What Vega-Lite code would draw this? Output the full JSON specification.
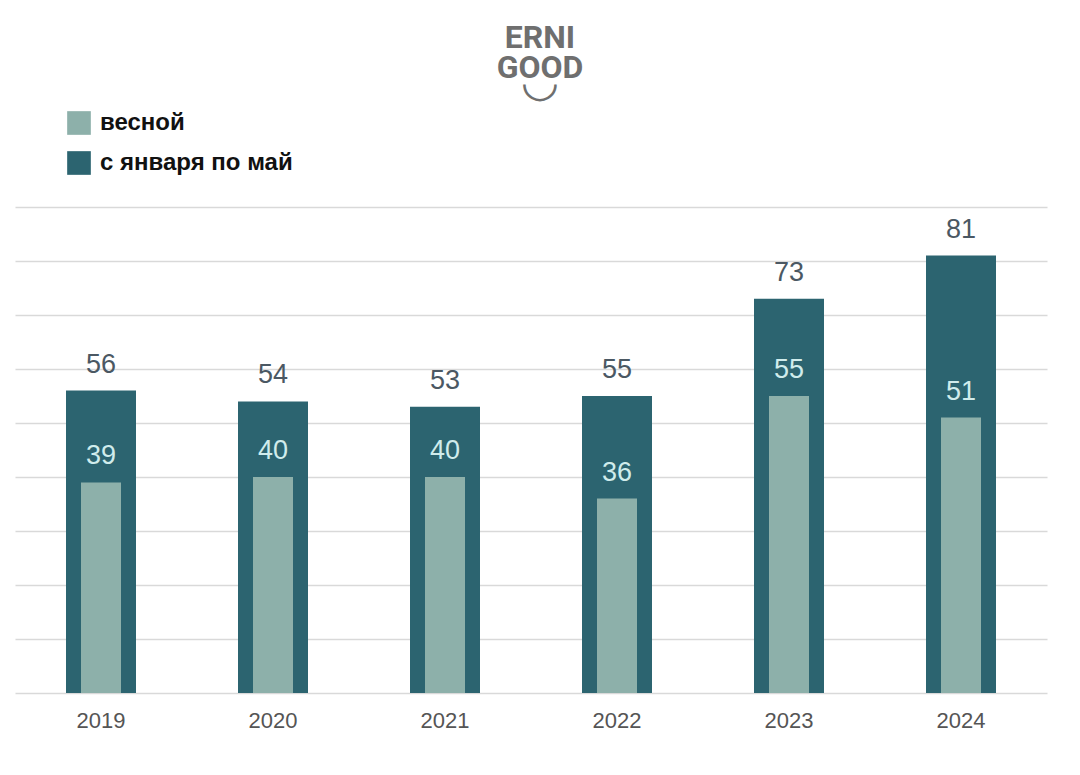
{
  "$schema": "https://vega.github.io/schema/vega-lite/v6.json",
  "width": 1032,
  "height": 486,
  "autosize": "none",
  "padding": {"left": 15, "top": 207, "right": 33, "bottom": 82},
  "background": "white",
  "title": {
    "text": ["ERNI", "GOOD"],
    "subtitle": "◡",
    "anchor": "middle",
    "frame": "group",
    "font": "Roboto",
    "fontSize": 32,
    "fontWeight": "bold",
    "lineHeight": 30,
    "color": "#6f6f6f",
    "subtitleColor": "#6f6f6f",
    "subtitleFont": "DejaVu Sans",
    "subtitleFontSize": 44,
    "subtitleFontWeight": "bold",
    "subtitlePadding": -24,
    "offset": 5,
    "dx": 9
  },
  "data": {
    "values": [
      {"year": "2019", "total": 56, "spring": 39},
      {"year": "2020", "total": 54, "spring": 40},
      {"year": "2021", "total": 53, "spring": 40},
      {"year": "2022", "total": 55, "spring": 36},
      {"year": "2023", "total": 73, "spring": 55},
      {"year": "2024", "total": 81, "spring": 51}
    ]
  },
  "config": {
    "view": {"stroke": null},
    "font": "Liberation Sans"
  },
  "encoding": {
    "x": {
      "field": "year",
      "type": "nominal",
      "title": null,
      "scale": {"paddingInner": 0, "paddingOuter": 0},
      "axis": {
        "labelAngle": 0,
        "labelFontSize": 22,
        "labelColor": "#555555",
        "labelPadding": 17,
        "ticks": false,
        "domain": false,
        "grid": false
      }
    }
  },
  "layer": [
    {
      "mark": {"type": "bar", "size": 70, "color": "#2c6470"},
      "encoding": {
        "y": {
          "field": "total",
          "type": "quantitative",
          "scale": {"domain": [0, 90], "nice": false},
          "title": null,
          "axis": {
            "values": [0, 10, 20, 30, 40, 50, 60, 70, 80, 90],
            "labels": false,
            "ticks": false,
            "domain": false,
            "grid": true,
            "gridColor": "#d9d9d9",
            "gridWidth": 1.5
          }
        },
        "fill": {
          "datum": "с января по май",
          "type": "nominal",
          "scale": {
            "domain": ["весной", "с января по май"],
            "range": ["#8db0aa", "#2c6470"]
          },
          "legend": {
            "orient": "none",
            "legendX": 52,
            "legendY": -96,
            "title": null,
            "symbolType": "square",
            "symbolSize": 560,
            "symbolStrokeWidth": 0,
            "labelFontSize": 24,
            "labelFontWeight": "bold",
            "labelColor": "#111111",
            "labelOffset": 9,
            "labelLimit": 500,
            "rowPadding": 16,
            "labelFont": "Liberation Sans"
          }
        }
      }
    },
    {
      "mark": {"type": "bar", "size": 40, "color": "#8db0aa"},
      "encoding": {
        "y": {"field": "spring", "type": "quantitative"},
        "fill": {"datum": "весной", "type": "nominal"}
      }
    },
    {
      "mark": {"type": "text", "baseline": "bottom", "dy": -12, "fontSize": 27, "color": "#4b5863"},
      "encoding": {
        "y": {"field": "total", "type": "quantitative"},
        "text": {"field": "total", "type": "quantitative"}
      }
    },
    {
      "mark": {"type": "text", "baseline": "bottom", "dy": -12, "fontSize": 27, "color": "#d0ecec"},
      "encoding": {
        "y": {"field": "spring", "type": "quantitative"},
        "text": {"field": "spring", "type": "quantitative"}
      }
    }
  ]
}
